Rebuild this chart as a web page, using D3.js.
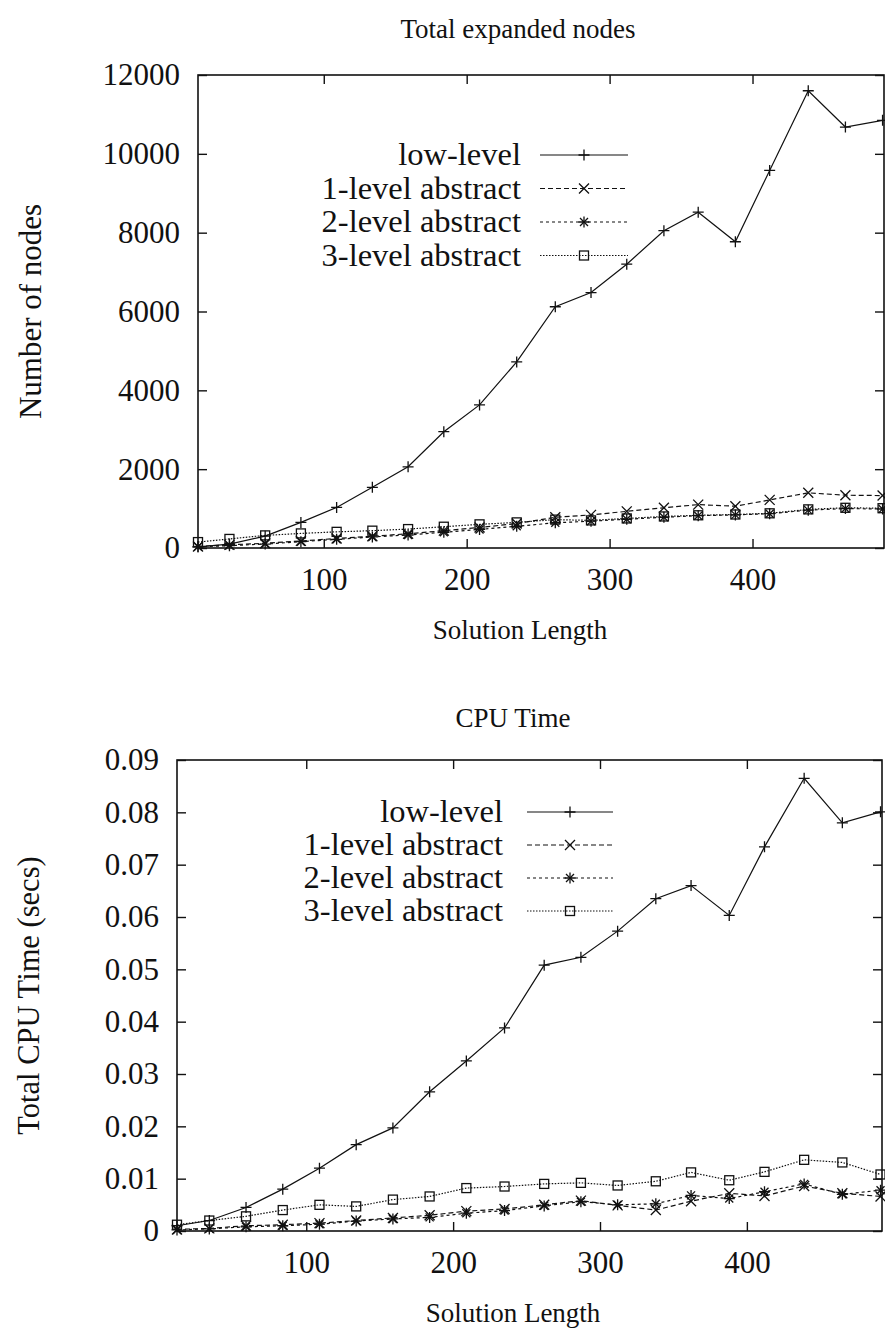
<!DOCTYPE html>
<html>
<head>
<meta charset="utf-8">
<script src="https://cdn.jsdelivr.net/npm/d3@7"></script>
<style>
  body { margin: 0; background: #fff; }
  svg { display: block; }
  svg text { font-family: "Liberation Serif", "Times New Roman", "DejaVu Serif", serif !important; fill: #111; }
</style>
</head>
<body>
<div id="chart"></div>
<script>
// solution length (x) for every point
var solutionLength = [12, 34, 59, 84, 109, 134, 159, 184, 209, 235, 262, 287, 312, 338, 362, 388, 412, 439, 465, 491];
var seriesNames = ["low-level", "1-level abstract", "2-level abstract", "3-level abstract"];
var xTicks = [100, 200, 300, 400];

// Total expanded nodes
var nodesLow = [30, 100, 300, 650, 1030, 1540, 2060, 2950, 3630, 4720, 6120, 6480, 7200, 8050, 8520, 7770, 9580, 11600, 10680, 10850];
var nodes1 = [40, 80, 120, 180, 240, 300, 360, 440, 520, 620, 780, 840, 930, 1020, 1100, 1060, 1220, 1400, 1340, 1330];
var nodes2 = [30, 60, 100, 160, 220, 280, 330, 400, 470, 550, 640, 680, 730, 780, 820, 840, 870, 960, 1000, 990];
var nodes3 = [150, 230, 320, 370, 410, 440, 480, 540, 600, 650, 720, 700, 750, 800, 830, 850, 880, 980, 1020, 1010];
var nodesTicks = [0, 2000, 4000, 6000, 8000, 10000, 12000];

// CPU time (secs)
var cpuLow = [0.001, 0.002, 0.0045, 0.008, 0.012, 0.0165, 0.0197, 0.0266, 0.0325, 0.0388, 0.0508, 0.0523, 0.0573, 0.0635, 0.066, 0.0603, 0.0734, 0.0865, 0.078, 0.0801];
var cpu1 = [0.0003, 0.0005, 0.001, 0.0012, 0.0015, 0.002, 0.0025, 0.003, 0.0038, 0.0042, 0.005, 0.0058, 0.0049, 0.004, 0.0057, 0.0072, 0.0067, 0.0086, 0.0072, 0.0066];
var cpu2 = [0.0002, 0.0004, 0.0008, 0.001, 0.0013, 0.0019, 0.0023, 0.0026, 0.0034, 0.0039, 0.0048, 0.0056, 0.005, 0.0052, 0.0068, 0.0062, 0.0075, 0.009, 0.007, 0.0078];
var cpu3 = [0.0012, 0.002, 0.0028, 0.004, 0.005, 0.0047, 0.006, 0.0066, 0.0082, 0.0085, 0.009, 0.0092, 0.0087, 0.0095, 0.0112, 0.0097, 0.0113, 0.0136, 0.0131, 0.0108];
var cpuTicks = [0, 0.01, 0.02, 0.03, 0.04, 0.05, 0.06, 0.07, 0.08, 0.09];

var serif = "'Liberation Serif', 'Times New Roman', serif";

var svg = d3.select("#chart")
  .append("svg")
  .attr("width", 885)
  .attr("height", 1337);

// line style + marker per series
var styles = [
  { dash: null, marker: "plus" },
  { dash: "5,3", marker: "cross" },
  { dash: "3,3", marker: "star" },
  { dash: "1.5,1.5", marker: "square" }
];

function drawMarker(g, type, x, y) {
  var s = 5.5;
  if (type == "plus" || type == "star") {
    g.append("path").attr("d", `M${x - s},${y}H${x + s}M${x},${y - s}V${y + s}`);
  }
  if (type == "cross" || type == "star") {
    var c = type == "star" ? 4 : 5;
    g.append("path").attr("d", `M${x - c},${y - c}L${x + c},${y + c}M${x - c},${y + c}L${x + c},${y - c}`);
  }
  if (type == "square") {
    g.append("rect").attr("x", x - 4.5).attr("y", y - 4.5).attr("width", 9).attr("height", 9).attr("fill", "none");
  }
}

function drawPanel(p) {
  var x = d3.scaleLinear().domain([12, 492]).range([p.left, p.right]);
  var y = d3.scaleLinear().domain(p.yDomain).range([p.bottom, p.top]);

  var g = svg.append("g").attr("font-family", serif);

  // title
  g.append("text")
    .attr("x", p.titleX).attr("y", p.titleY)
    .attr("text-anchor", "middle")
    .style("font-size", "27px")
    .text(p.title);

  // box
  g.append("rect")
    .attr("x", p.left).attr("y", p.top)
    .attr("width", p.right - p.left).attr("height", p.bottom - p.top)
    .attr("fill", "none").attr("stroke", "#111").attr("stroke-width", 1.6);

  // axes (gnuplot style: inward ticks, mirrored)
  var tl = 9;
  var axB = g.append("g").attr("transform", `translate(0,${p.bottom})`)
    .call(d3.axisBottom(x).tickValues(xTicks).tickSizeInner(-tl).tickSizeOuter(0).tickPadding(20));
  var axT = g.append("g").attr("transform", `translate(0,${p.top})`)
    .call(d3.axisTop(x).tickValues(xTicks).tickSizeInner(-tl).tickSizeOuter(0).tickFormat(""));
  var axL = g.append("g").attr("transform", `translate(${p.left},0)`)
    .call(d3.axisLeft(y).tickValues(p.yTicks).tickSizeInner(-tl).tickSizeOuter(0).tickPadding(18).tickFormat(p.fmt));
  var axR = g.append("g").attr("transform", `translate(${p.right},0)`)
    .call(d3.axisRight(y).tickValues(p.yTicks).tickSizeInner(-tl).tickSizeOuter(0).tickFormat(""));
  [axB, axT, axL, axR].forEach(function(a) {
    a.attr("font-family", serif);
    a.select(".domain").remove();
    a.selectAll("line").attr("stroke", "#111").attr("stroke-width", 1.4);
    a.selectAll("text").style("font-size", "31px").attr("fill", "#111");
  });

  // axis labels
  g.append("text")
    .attr("transform", `translate(${p.yLabelX},${(p.top + p.bottom) / 2}) rotate(-90)`)
    .attr("text-anchor", "middle")
    .style("font-size", p.yLabelSize)
    .text(p.yLabel);
  g.append("text")
    .attr("x", p.xLabelX).attr("y", p.bottom + 91)
    .attr("text-anchor", "middle")
    .style("font-size", "27px")
    .text("Solution Length");

  var line = d3.line()
    .x(function(d, i) { return x(solutionLength[i]); })
    .y(function(d) { return y(d); });

  p.series.forEach(function(vals, k) {
    var st = styles[k];
    g.append("path")
      .datum(vals)
      .attr("d", line)
      .attr("fill", "none")
      .attr("stroke", "#111")
      .attr("stroke-width", 1.2)
      .attr("stroke-dasharray", st.dash);
    var mg = g.append("g").attr("stroke", "#111").attr("stroke-width", 1.3);
    vals.forEach(function(v, i) {
      drawMarker(mg, st.marker, x(solutionLength[i]), y(v));
    });

    // legend row
    var ly = p.legendY + k * p.legendStep;
    g.append("text")
      .attr("x", p.legendTextX).attr("y", ly + 10)
      .attr("text-anchor", "end")
      .style("font-size", "32.5px")
      .text(seriesNames[k]);
    g.append("line")
      .attr("x1", p.legendLine[0]).attr("x2", p.legendLine[1])
      .attr("y1", ly).attr("y2", ly)
      .attr("stroke", "#111").attr("stroke-width", 1.2)
      .attr("stroke-dasharray", st.dash);
    drawMarker(mg, st.marker, (p.legendLine[0] + p.legendLine[1]) / 2, ly);
  });
}

drawPanel({
  title: "Total expanded nodes", titleX: 518, titleY: 38,
  left: 198, right: 884, top: 75, bottom: 548,
  yDomain: [0, 12000], yTicks: nodesTicks, fmt: d3.format("d"),
  yLabel: "Number of nodes", yLabelX: 41, yLabelSize: "31px",
  xLabelX: 520,
  series: [nodesLow, nodes1, nodes2, nodes3],
  legendTextX: 521, legendLine: [540, 628], legendY: 155, legendStep: 33.5
});

drawPanel({
  title: "CPU Time", titleX: 513, titleY: 727,
  left: 177, right: 882, top: 760, bottom: 1231,
  yDomain: [0, 0.09], yTicks: cpuTicks, fmt: function(d) { return d == 0 ? "0" : d3.format(".2f")(d); },
  yLabel: "Total CPU Time (secs)", yLabelX: 39, yLabelSize: "30.5px",
  xLabelX: 513,
  series: [cpuLow, cpu1, cpu2, cpu3],
  legendTextX: 503, legendLine: [527, 613], legendY: 812, legendStep: 33
});
</script>
</body>
</html>
